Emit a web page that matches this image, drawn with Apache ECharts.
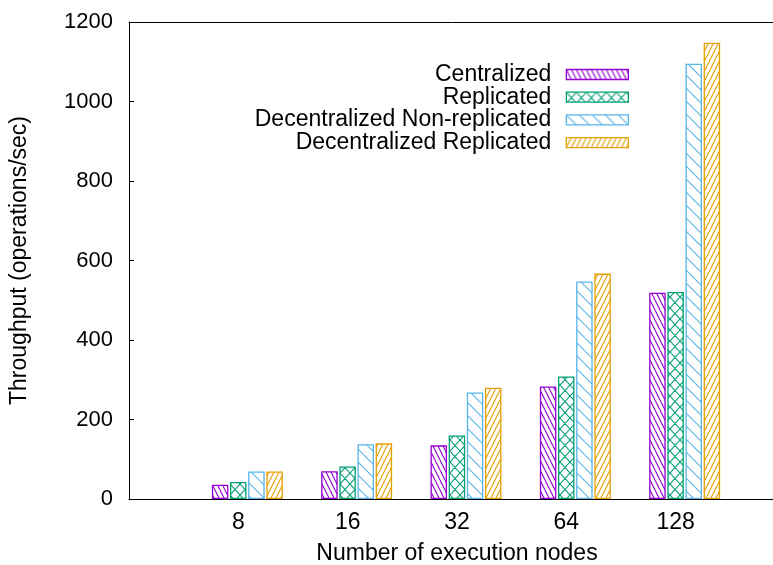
<!DOCTYPE html>
<html><head><meta charset="utf-8">
<script src="https://cdn.jsdelivr.net/npm/echarts@6/dist/echarts.min.js"></script>
<style>html,body{margin:0;padding:0;background:#fff}#c{width:773px;height:565px}</style>
</head><body><div id="c"></div><script>
// ---- data ----
const categories = ['8', '16', '32', '64', '128'];
const seriesNames = ['Centralized', 'Replicated', 'Decentralized Non-replicated', 'Decentralized Replicated'];
const centralized = [36, 70, 135, 283, 519];
const replicated = [43, 82, 160, 308, 521];
const decNonReplicated = [69, 138, 268, 547, 1095];
const decReplicated = [69, 140, 280, 567, 1148];
const yTicks = [0, 200, 400, 600, 800, 1000, 1200];

// ---- styles ----
const FONT = 'Liberation Sans';
const FS = 23;
const colors = ['#9400D3', '#009E73', '#56B4E9', '#E69F00'];

function makePattern(color, w, h, segs) {
  const c = document.createElement('canvas');
  c.width = w; c.height = h;
  const ctx = c.getContext('2d');
  ctx.fillStyle = '#fff';
  ctx.fillRect(0, 0, w, h);
  ctx.strokeStyle = color;
  ctx.lineWidth = 1.1;
  ctx.beginPath();
  segs.forEach(s => { ctx.moveTo(s[0], s[1]); ctx.lineTo(s[2], s[3]); });
  ctx.stroke();
  return { image: c, repeat: 'repeat' };
}
function family(w, h, dir) {
  const segs = [];
  for (let k = -1; k <= 1; k++) {
    if (dir === 'back') segs.push([k * w, 0, k * w + w, h]);
    else segs.push([k * w, h, k * w + w, 0]);
  }
  return segs;
}
const patterns = [
  makePattern(colors[0], 5, 10, family(5, 10, 'back')),
  makePattern(colors[1], 10, 11, family(10, 11, 'back').concat(family(10, 11, 'fwd'))),
  makePattern(colors[2], 13, 13, family(13, 13, 'back')),
  makePattern(colors[3], 5, 10, family(5, 10, 'fwd'))
];

const axisData = [''].concat(categories, ['']);
const pad = arr => ['-'].concat(arr, ['-']);
const values = [centralized, replicated, decNonReplicated, decReplicated];

const chart = echarts.init(document.getElementById('c'), null, { renderer: 'canvas' });
const lineStyle = { color: '#000', width: 1 };
chart.setOption({
  animation: false,
  backgroundColor: '#fff',
  textStyle: { fontFamily: FONT },
  grid: [
    { left: 129, right: -12, top: 22, bottom: 66, containLabel: false, outerBoundsMode: 'none' },
    { left: 138, right: -21, top: 22, bottom: 66, containLabel: false, outerBoundsMode: 'none' }
  ],
  xAxis: [
    {
      gridIndex: 0, type: 'category', data: axisData, boundaryGap: false,
      axisLine: { show: true, lineStyle }, axisTick: { show: false },
      axisLabel: { fontSize: FS, color: '#000', fontFamily: FONT, margin: 12, interval: 0 },
      splitLine: { show: false },
      name: 'Number of execution nodes', nameLocation: 'middle', nameGap: 43,
      nameTextStyle: { fontSize: FS, color: '#000', fontFamily: FONT }
    },
    {
      gridIndex: 0, type: 'category', data: axisData, boundaryGap: false, position: 'top',
      axisLine: { show: true, lineStyle }, axisTick: { show: false },
      axisLabel: { show: false }, splitLine: { show: false }
    },
    {
      gridIndex: 1, type: 'category', data: axisData, boundaryGap: false, show: false
    }
  ],
  yAxis: [
    {
      gridIndex: 0, type: 'value', min: yTicks[0], max: yTicks[yTicks.length - 1], interval: 200,
      axisLine: { show: true, lineStyle },
      axisTick: { show: true, inside: true, length: 5, lineStyle },
      axisLabel: { fontSize: 22, color: '#000', fontFamily: FONT, margin: 16, formatter: v => String(v) },
      splitLine: { show: false },
      name: 'Throughput (operations/sec)', nameLocation: 'middle', nameGap: 98, nameRotate: 90,
      nameTextStyle: { fontSize: FS, color: '#000', fontFamily: FONT }
    },
    {
      gridIndex: 1, type: 'value', min: yTicks[0], max: yTicks[yTicks.length - 1], interval: 200, show: false
    }
  ],
  legend: {
    orient: 'vertical', right: 144, top: 63, align: 'right', padding: 0,
    itemWidth: 62, itemHeight: 10, itemGap: -0.3, icon: 'rect', selectedMode: false,
    data: seriesNames,
    itemStyle: { borderWidth: 1.3 },
    textStyle: { fontSize: FS, color: '#000', fontFamily: FONT, padding: [0, 10, 0, 0] }
  },
  series: seriesNames.map((name, i) => ({
    name, type: 'bar', xAxisIndex: 2, yAxisIndex: 1,
    data: pad(values[i]),
    barWidth: 16.5, barGap: '10%',
    itemStyle: { color: patterns[i], borderColor: colors[i], borderWidth: 1.3 }
  }))
});
</script></body></html>
